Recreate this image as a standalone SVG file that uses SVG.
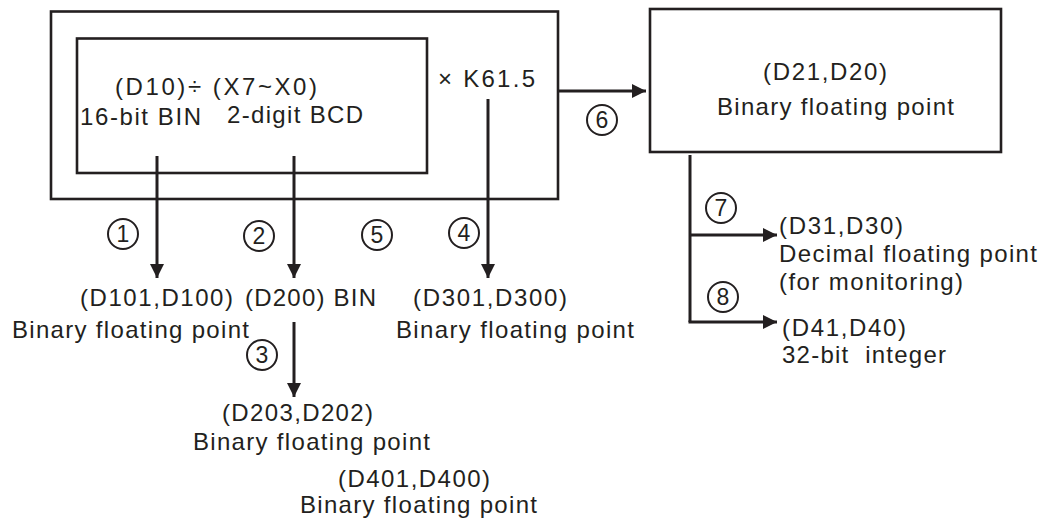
<svg xmlns="http://www.w3.org/2000/svg" width="1048" height="519" viewBox="0 0 1048 519">
<style>
.t{font-family:"Liberation Sans",Arial,sans-serif;font-size:24px;fill:#231f20;}
.box{fill:none;stroke:#231f20;stroke-width:2.6;}
.ln{fill:none;stroke:#231f20;stroke-width:3;}
.c{fill:none;stroke:#231f20;stroke-width:2;}
.n{font-family:"Liberation Sans",Arial,sans-serif;font-size:23px;fill:#231f20;text-anchor:middle;}
</style>
<defs>
<marker id="ah" viewBox="0 0 14 14" refX="14" refY="7" markerWidth="14" markerHeight="14" markerUnits="userSpaceOnUse" orient="auto">
<path d="M0,0 L14,7 L0,14 z" fill="#231f20"/>
</marker>
</defs>
<rect width="1048" height="519" fill="#ffffff"/>

<g id="source">
<rect class="box" x="51" y="11.5" width="507" height="187.5"/>
<rect class="box" x="77" y="38.5" width="350" height="134.5"/>
<text class="t" x="115" y="95" textLength="202" lengthAdjust="spacing">(D10)÷ (X7~X0)</text>
<text class="t" x="80" y="125" textLength="121" lengthAdjust="spacing">16-bit BIN</text>
<text class="t" x="227" y="123" textLength="136" lengthAdjust="spacing">2-digit BCD</text>
<text class="t" x="438" y="87" textLength="97" lengthAdjust="spacing">× K61.5</text>
</g>

<g id="d20">
<rect class="box" x="650" y="9" width="351" height="143"/>
<text class="t" x="763" y="80" textLength="124" lengthAdjust="spacing">(D21,D20)</text>
<text class="t" x="717" y="115" textLength="237" lengthAdjust="spacing">Binary floating point</text>
</g>

<g id="d100">
<text class="t" x="80" y="306" textLength="153" lengthAdjust="spacing">(D101,D100)</text>
<text class="t" x="12" y="338" textLength="237" lengthAdjust="spacing">Binary floating point</text>
</g>

<g id="d200">
<text class="t" x="245" y="306" textLength="131" lengthAdjust="spacing">(D200) BIN</text>
</g>

<g id="d300">
<text class="t" x="413" y="306" textLength="154" lengthAdjust="spacing">(D301,D300)</text>
<text class="t" x="396" y="338" textLength="238" lengthAdjust="spacing">Binary floating point</text>
</g>

<g id="d202">
<text class="t" x="222" y="421" textLength="151" lengthAdjust="spacing">(D203,D202)</text>
<text class="t" x="193" y="450" textLength="237" lengthAdjust="spacing">Binary floating point</text>
</g>

<g id="d400">
<text class="t" x="338" y="487" textLength="152" lengthAdjust="spacing">(D401,D400)</text>
<text class="t" x="300" y="513" textLength="237" lengthAdjust="spacing">Binary floating point</text>
</g>

<g id="d30">
<text class="t" x="779" y="234" textLength="124" lengthAdjust="spacing">(D31,D30)</text>
<text class="t" x="779" y="262" textLength="258" lengthAdjust="spacing">Decimal floating point</text>
<text class="t" x="779" y="290" textLength="184" lengthAdjust="spacing">(for monitoring)</text>
</g>

<g id="d40">
<text class="t" x="782" y="336" textLength="124" lengthAdjust="spacing">(D41,D40)</text>
<text class="t" x="782" y="363" textLength="164" lengthAdjust="spacing" xml:space="preserve">32-bit  integer</text>
</g>

<g id="connectors">
<line class="ln" x1="157" y1="156" x2="157" y2="278" marker-end="url(#ah)"/>
<line class="ln" x1="294" y1="156" x2="294" y2="278" marker-end="url(#ah)"/>
<line class="ln" x1="488" y1="99" x2="488" y2="278" marker-end="url(#ah)"/>
<line class="ln" x1="558" y1="91" x2="646" y2="91" marker-end="url(#ah)"/>
<line class="ln" x1="294" y1="322" x2="294" y2="397" marker-end="url(#ah)"/>
<line class="ln" x1="690" y1="155" x2="690" y2="322"/>
<line class="ln" x1="690" y1="235" x2="777" y2="235" marker-end="url(#ah)"/>
<line class="ln" x1="688.5" y1="322" x2="777" y2="322" marker-end="url(#ah)"/>
</g>

<g id="labels">
<circle class="c" cx="123" cy="234" r="15"/><text class="n" x="123" y="242">1</text>
<circle class="c" cx="259" cy="236" r="15"/><text class="n" x="259" y="244">2</text>
<circle class="c" cx="262" cy="355" r="15"/><text class="n" x="262" y="363">3</text>
<circle class="c" cx="464" cy="233" r="15"/><text class="n" x="464" y="241">4</text>
<circle class="c" cx="377" cy="235" r="15"/><text class="n" x="377" y="243">5</text>
<circle class="c" cx="602" cy="120" r="15"/><text class="n" x="602" y="128">6</text>
<circle class="c" cx="721" cy="208" r="15"/><text class="n" x="721" y="216">7</text>
<circle class="c" cx="723" cy="297" r="15"/><text class="n" x="723" y="305">8</text>
</g>
</svg>
